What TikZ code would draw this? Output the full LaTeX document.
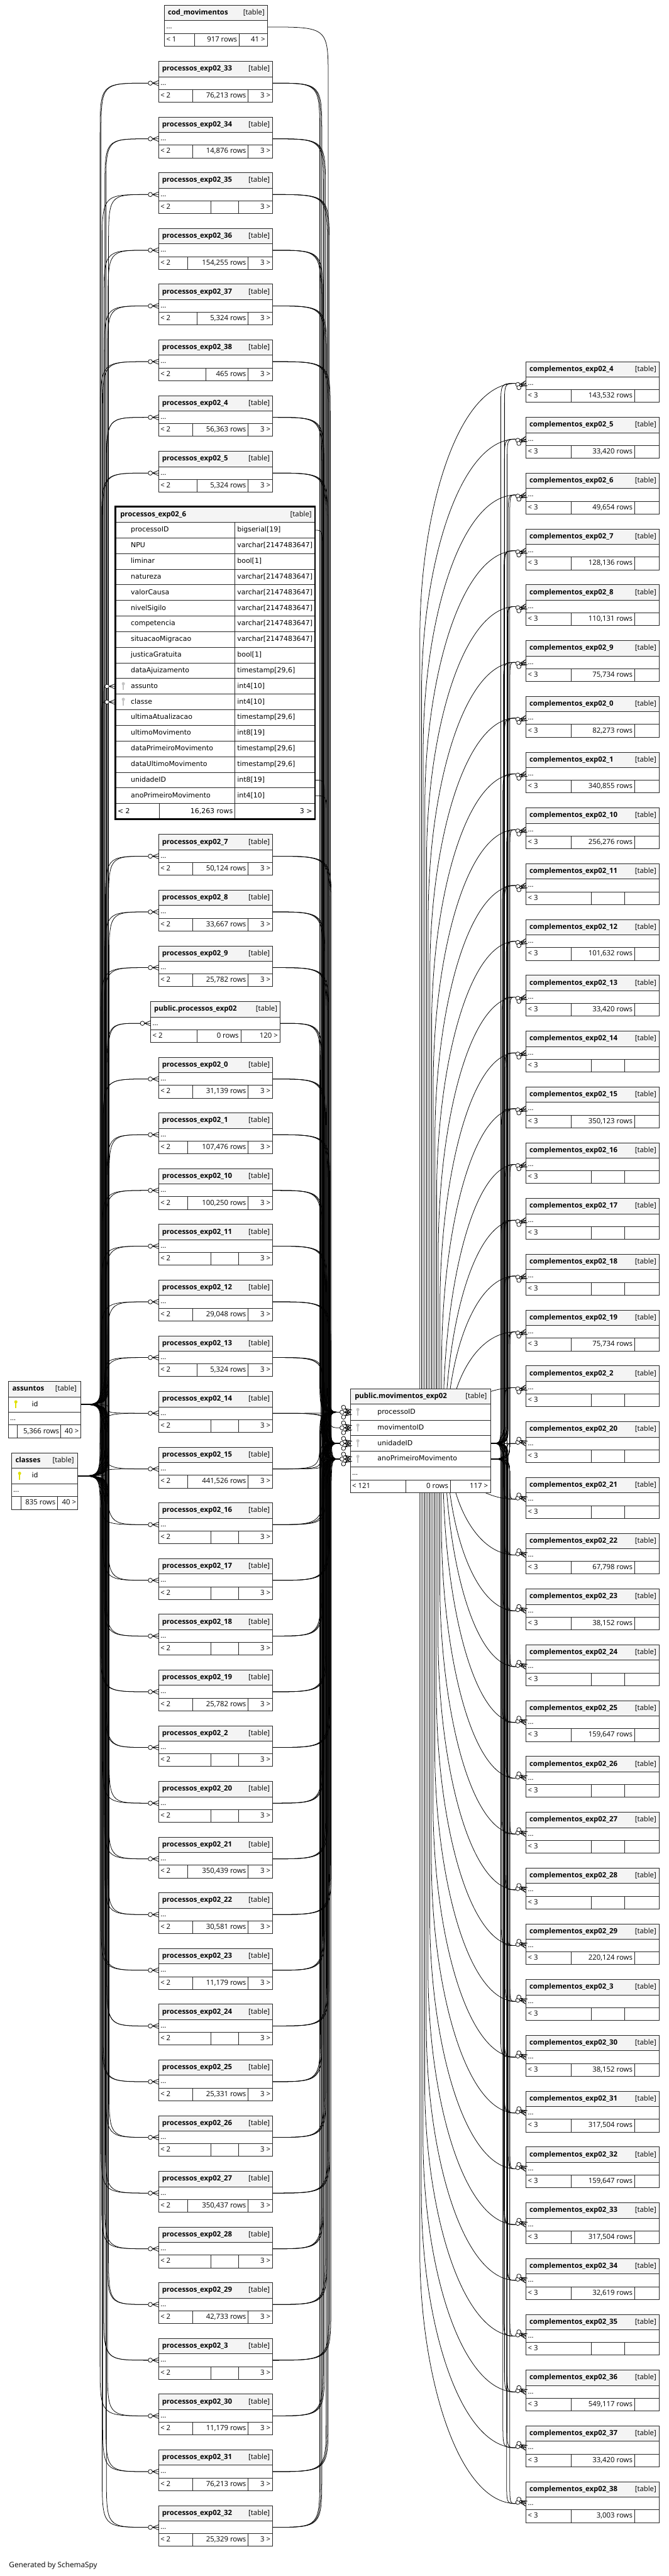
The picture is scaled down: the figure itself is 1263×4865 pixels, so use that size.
\documentclass[tikz,border=0pt]{standalone}
\usepackage{fontspec}
\setmainfont{Open Sans}
\newfontfamily\fieldfont{DejaVu Sans}
\usetikzlibrary{calc}
\pgfdeclarelayer{bg}
\pgfsetlayers{bg,main}
\definecolor{hdr}{HTML}{F4F4F4}
\definecolor{pkey}{HTML}{E0E000}
\definecolor{fkey}{HTML}{C4C4C4}
\tikzset{
  edge/.style={draw=black, line width=0.9pt},
  tbl/.style={draw=black!85, line width=1.1pt},
  ttl/.style={inner sep=0pt, text height=10pt, text depth=3pt, font=\fontsize{13.5}{16}\selectfont\bfseries},
  tag/.style={inner sep=0pt, text height=10pt, text depth=3pt, font=\fontsize{13.5}{16}\selectfont},
  cell/.style={inner sep=0pt, text height=10pt, text depth=3pt, font=\fontsize{13.5}{16}\selectfont},
  fld/.style={inner sep=0pt, text height=10pt, text depth=3pt, font=\fieldfont\fontsize{13}{16}\selectfont},
  crow/.pic={
    \draw[edge] (-12,0) -- (0,-5) (-12,0) -- (0,0) (-12,0) -- (0,5);
    \draw[edge, fill=white] (-16,0) circle[radius=4];
  },
  pkeyic/.pic={\fill[pkey] (0,-5) circle[radius=3]; \fill[pkey] (-1.2,-5) rectangle (1.2,7);},
  fkeyic/.pic={\fill[fkey] (0,-5) circle[radius=3]; \fill[fkey] (-1.2,-5) rectangle (1.2,7);}
}
\newcommand\myL{< 2}
\newcommand\myR{3 >}
% small table: #1 name #2 x0 #3 x1 #4 top #5 c1 #6 c2 #7 title #8 rows
\newcommand\smtab[8]{%
  \pgfmathsetmacro\tyA{#4+29}%
  \pgfmathsetmacro\tyB{#4+53}%
  \pgfmathsetmacro\tyC{#4+77}%
  \pgfmathsetmacro\tyM{#4+41}%
  \pgfmathsetmacro\tyF{#4+65}%
  \pgfmathsetmacro\tyH{#4+14.5}%
  \filldraw[tbl,fill=white] (#2,#4) rectangle (#3,\tyC);
  \filldraw[tbl,fill=hdr] (#2,#4) rectangle (#3,\tyA);
  \draw[tbl] (#2,\tyB) -- (#3,\tyB) (#5,\tyB) -- (#5,\tyC) (#6,\tyB) -- (#6,\tyC);
  \node[ttl,anchor=west] (#1) at (#2+6,\tyH) {#7};
  \node[tag,anchor=east] (#1-tag) at (#3-5,\tyH) {[table]};
  \node[cell,anchor=west] (#1-dots) at (#2+3,\tyM) {...};
  \node[cell,anchor=west] (#1-lf) at (#2+3,\tyF) {\myL};
  \node[cell,anchor=east] (#1-rows) at (#6-4,\tyF) {#8};
  \node[cell,anchor=east] (#1-rt) at (#3-4,\tyF) {\myR};
  \coordinate (#1-w) at (#2,\tyM);
  \coordinate (#1-wl) at (#2-20,\tyM);
  \coordinate (#1-e) at (#3,\tyM);
}
% route: #1 src #2 tgt #3 ys #4 ye #5 xb #6 R1 #7 R2
\newcommand\route[7]{%
  \pgfmathsetmacro\rtDy{#4-(#3)}%
  \pgfmathsetmacro\rtS{ifthenelse(\rtDy<0,-1,1)}%
  \pgfmathsetmacro\rtA{min(#6,abs(\rtDy)/2)}%
  \pgfmathsetmacro\rtB{min(#7,abs(\rtDy)/2)}%
  \pgfmathsetmacro\rtP{#3+\rtS*\rtA}%
  \pgfmathsetmacro\rtQ{#4-\rtS*\rtB}%
  \draw[edge] (#1) .. controls (#5,#3) .. (#5,\rtP) -- (#5,\rtQ) .. controls (#5,#4) .. (#2);
}
\def\upperlist{p33,p34,p35,p36,p37,p38,p4,p5}
\def\lowerlist{p7,p8,p9,pub,p0,p1,p10,p11,p12,p13,p14,p15,p16,p17,p18,p19,p2,p20,p21,p22,p23,p24,p25,p26,p27,p28,p29,p3,p30,p31,p32}
\def\rightlist{c4,c5,c6,c7,c8,c9,c0,c1,c10,c11,c12,c13,c14,c15,c16,c17,c18,c19,c2,c20,c21,c22,c23,c24,c25,c26,c27,c28,c29,c3,c30,c31,c32,c33,c34,c35,c36,c37,c38}

\begin{document}
\begin{tikzpicture}[x=1pt,y=-1pt]
\useasboundingbox (0,0) rectangle (1263,4865);

% ---------- cod_movimentos
\def\myL{< 1}\def\myR{41 >}
\smtab{cod}{311}{505}{10}{368}{452}{cod\_movimentos}{917 rows}

% ---------- upper processos tables
\def\myL{< 2}\def\myR{3 >}
\foreach \nm/\ti/\ca/\rw [count=\k from 0] in {p33/33/364/{76{,}213 rows}, p34/34/364/{14{,}876 rows}, p35/35/399/{}, p36/36/355/{154{,}255 rows}, p37/37/372/{5{,}324 rows}, p38/38/389/{465 rows}, p4/4/364/{56{,}363 rows}, p5/5/372/{5{,}324 rows}}{
  \pgfmathsetmacro\tp{116+105.2*\k}
  \ifnum\ca=399 \def\cb{451}\else\def\cb{469}\fi
  \smtab{\nm}{300}{515}{\tp}{\ca}{\cb}{processos\_exp02\_\ti}{\rw}
}

% ---------- lower processos tables
\foreach \nm/\ti/\ca/\rw [count=\k from 0] in {p7/7/364/{50{,}124 rows}, p8/8/364/{33{,}667 rows}, p9/9/364/{25{,}782 rows}, pub/x/372/{0 rows}, p0/0/364/{31{,}139 rows}, p1/1/355/{107{,}476 rows}, p10/10/355/{100{,}250 rows}, p11/11/399/{}, p12/12/364/{29{,}048 rows}, p13/13/372/{5{,}324 rows}, p14/14/399/{}, p15/15/355/{441{,}526 rows}, p16/16/399/{}, p17/17/399/{}, p18/18/399/{}, p19/19/364/{25{,}782 rows}, p2/2/399/{}, p20/20/399/{}, p21/21/355/{350{,}439 rows}, p22/22/364/{30{,}581 rows}, p23/23/364/{11{,}179 rows}, p24/24/399/{}, p25/25/364/{25{,}331 rows}, p26/26/399/{}, p27/27/355/{350{,}437 rows}, p28/28/399/{}, p29/29/364/{42{,}733 rows}, p3/3/399/{}, p30/30/364/{11{,}179 rows}, p31/31/364/{76{,}213 rows}, p32/32/364/{25{,}329 rows}}{
  \pgfmathsetmacro\tp{1576+105.2*\k}
  \ifnum\k=3
    \def\myR{120 >}%
    \smtab{pub}{285}{529}{\tp}{372}{455}{public.processos\_exp02}{0 rows}
  \else
    \ifnum\ca=399 \def\cb{451}\else\def\cb{469}\fi
    \smtab{\nm}{300}{515}{\tp}{\ca}{\cb}{processos\_exp02\_\ti}{\rw}
  \fi
}

% ---------- complementos tables
\def\myL{< 3}\def\myR{}
\foreach \nm/\ti/\fl/\rw [count=\k from 0] in {c4/4/1/{143{,}532 rows}, c5/5/1/{33{,}420 rows}, c6/6/1/{49{,}654 rows}, c7/7/1/{128{,}136 rows}, c8/8/1/{110{,}131 rows}, c9/9/1/{75{,}734 rows}, c0/0/1/{82{,}273 rows}, c1/1/1/{340{,}855 rows}, c10/10/1/{256{,}276 rows}, c11/11/0/{}, c12/12/1/{101{,}632 rows}, c13/13/1/{33{,}420 rows}, c14/14/0/{}, c15/15/1/{350{,}123 rows}, c16/16/0/{}, c17/17/0/{}, c18/18/0/{}, c19/19/1/{75{,}734 rows}, c2/2/0/{}, c20/20/0/{}, c21/21/0/{}, c22/22/1/{67{,}798 rows}, c23/23/1/{38{,}152 rows}, c24/24/0/{}, c25/25/1/{159{,}647 rows}, c26/26/0/{}, c27/27/0/{}, c28/28/0/{}, c29/29/1/{220{,}124 rows}, c3/3/0/{}, c30/30/1/{38{,}152 rows}, c31/31/1/{317{,}504 rows}, c32/32/1/{159{,}647 rows}, c33/33/1/{317{,}504 rows}, c34/34/1/{32{,}619 rows}, c35/35/0/{}, c36/36/1/{549{,}117 rows}, c37/37/1/{33{,}420 rows}, c38/38/1/{3{,}003 rows}}{
  \pgfmathsetmacro\tp{683+105.37*\k}
  \ifnum\fl=1 \def\ca{1079}\def\cb{1199}\else\def\ca{1117}\def\cb{1180}\fi
  \smtab{\nm}{994}{1245}{\tp}{\ca}{\cb}{complementos\_exp02\_\ti}{\rw}
}

% ---------- big table processos_exp02_6
\filldraw[fill=white, draw=black, line width=3pt] (218,957) rectangle (595,1547);
\fill[hdr] (219.5,958.5) rectangle (593.5,986.5);
\foreach \fn/\ft [count=\i from 0] in {processoID/{bigserial[19]}, NPU/{varchar[2147483647]}, liminar/{bool[1]}, natureza/{varchar[2147483647]}, valorCausa/{varchar[2147483647]}, nivelSigilo/{varchar[2147483647]}, competencia/{varchar[2147483647]}, situacaoMigracao/{varchar[2147483647]}, justicaGratuita/{bool[1]}, dataAjuizamento/{timestamp[29,6]}, assunto/{int4[10]}, classe/{int4[10]}, ultimaAtualizacao/{timestamp[29,6]}, ultimoMovimento/{int8[19]}, dataPrimeiroMovimento/{timestamp[29,6]}, dataUltimoMovimento/{timestamp[29,6]}, unidadeID/{int8[19]}, anoPrimeiroMovimento/{int4[10]}}{
  \pgfmathsetmacro\ry{1001.25+29.5*\i}
  \pgfmathsetmacro\rl{986.5+29.5*\i}
  \draw[tbl] (218,\rl) -- (595,\rl);
  \node[fld,anchor=west] (p6f\i) at (247,\ry) {\fn};
  \node[fld,anchor=west] (p6t\i) at (448,\ry) {\ft};
}
\draw[tbl] (218,1517.5) -- (595,1517.5) (444,986.5) -- (444,1547) (301,1517.5) -- (301,1547);
\node[ttl,anchor=west] (p6) at (227,971.75) {processos\_exp02\_6};
\node[tag,anchor=east] (p6-tag) at (589,971.75) {[table]};
\node[fld,anchor=west] (p6-lf) at (222,1532.25) {< 2};
\node[fld,anchor=east] (p6-rows) at (440,1532.25) {16,263 rows};
\node[fld,anchor=east] (p6-rt) at (590,1532.25) {3 >};
\draw[draw=black, line width=3pt] (218,957) rectangle (595,1547);
\path (233,1296.25) pic{fkeyic} (233,1325.75) pic{fkeyic};
\coordinate (p6-asw) at (218,1296.25);
\coordinate (p6-as) at (198,1296.25);
\coordinate (p6-clw) at (218,1325.75);
\coordinate (p6-cl) at (198,1325.75);
\coordinate (p6-pid) at (595,1001.25);
\coordinate (p6-uid) at (595,1473.25);
\coordinate (p6-ano) at (595,1502.75);

% ---------- assuntos
\filldraw[tbl,fill=white] (16,2609) rectangle (152,2716);
\filldraw[tbl,fill=hdr] (16,2609) rectangle (152,2638);
\draw[tbl] (16,2667) -- (152,2667) (16,2691) -- (152,2691) (33,2691) -- (33,2716) (115,2691) -- (115,2716);
\node[ttl,anchor=west] (as) at (23,2623.5) {assuntos};
\node[tag,anchor=east] (as-tag) at (145,2623.5) {[table]};
\path (30,2652.5) pic{pkeyic};
\node[fld,anchor=west] (as-id) at (60,2652.5) {id};
\node[cell,anchor=west] (as-dots) at (19,2679) {...};
\node[cell,anchor=east] (as-rows) at (112,2703.5) {5,366 rows};
\node[cell,anchor=east] (as-rt) at (149,2703.5) {40 >};
\coordinate (asid) at (152,2652.5);

% ---------- classes
\filldraw[tbl,fill=white] (22,2744) rectangle (147,2851);
\filldraw[tbl,fill=hdr] (22,2744) rectangle (147,2773);
\draw[tbl] (22,2802) -- (147,2802) (22,2826) -- (147,2826) (40,2826) -- (40,2851) (109,2826) -- (109,2851);
\node[ttl,anchor=west] (cl) at (29,2758.5) {classes};
\node[tag,anchor=east] (cl-tag) at (140,2758.5) {[table]};
\path (37,2787.5) pic{pkeyic};
\node[fld,anchor=west] (cl-id) at (60,2787.5) {id};
\node[cell,anchor=west] (cl-dots) at (25,2814) {...};
\node[cell,anchor=east] (cl-rows) at (105,2838.5) {835 rows};
\node[cell,anchor=east] (cl-rt) at (144,2838.5) {40 >};
\coordinate (clid) at (147,2787.5);

% ---------- public.movimentos_exp02
\filldraw[tbl,fill=white] (662,2623) rectangle (927,2819);
\filldraw[tbl,fill=hdr] (662,2623) rectangle (927,2652);
\draw[tbl] (662,2682) -- (927,2682) (662,2711) -- (927,2711) (662,2741) -- (927,2741) (662,2770) -- (927,2770) (662,2795) -- (927,2795) (767,2795) -- (767,2819) (851,2795) -- (851,2819);
\node[ttl,anchor=west] (mv) at (670,2637.5) {public.movimentos\_exp02};
\node[tag,anchor=east] (mv-tag) at (920,2637.5) {[table]};
\foreach \fn/\fy/\nn in {processoID/2667/a, movimentoID/2696.5/b, unidadeID/2726/c, anoPrimeiroMovimento/2755.5/d}{
  \path (676,\fy) pic{fkeyic};
  \node[fld,anchor=west] (mv-\nn) at (713,\fy) {\fn};
}
\node[cell,anchor=west] (mv-dots) at (665,2782.5) {...};
\node[cell,anchor=west] (mv-lf) at (665,2807) {< 121};
\node[cell,anchor=east] (mv-rows) at (847,2807) {0 rows};
\node[cell,anchor=east] (mv-rt) at (922,2807) {117 >};
\coordinate (mvp) at (642,2667);
\coordinate (mvm) at (642,2696.5);
\coordinate (mvu) at (642,2726);
\coordinate (mva) at (642,2755.5);
\coordinate (mvp-w) at (662,2667);
\coordinate (mvm-w) at (662,2696.5);
\coordinate (mvu-w) at (662,2726);
\coordinate (mva-w) at (662,2755.5);
\coordinate (mvu-r) at (927,2726);
\coordinate (mva-r) at (927,2755.5);

\node[anchor=west, inner sep=0pt, font=\fontsize{14}{16}\selectfont] (gen) at (17,4845) {Generated by SchemaSpy};

% ---------- connectors (behind tables)
\begin{pgfonlayer}{bg}
\foreach \nm [count=\k from 0] in \upperlist {
  \pgfmathsetmacro\Y{157+105.2*\k}
  \pgfmathsetmacro\xa{191+mod(\k*7,16)}
  \pgfmathsetmacro\xc{189+mod(\k*11,18)}
  \pgfmathsetmacro\xb{604+mod(\k*7,19)}
  \route{asid}{\nm-wl}{2652.5}{\Y}{\xa}{70}{100}
  \route{clid}{\nm-wl}{2787.5}{\Y}{\xc}{70}{100}
  \route{\nm-e}{mvp}{\Y}{2667}{\xb}{100}{70}
  \route{\nm-e}{mvu}{\Y}{2726}{\xb+2}{100}{70}
  \route{\nm-e}{mva}{\Y}{2755.5}{\xb+4}{100}{70}
}
\foreach \nm [count=\k from 8] in \lowerlist {
  \pgfmathsetmacro\Y{1617+105.2*(\k-8)}
  \pgfmathsetmacro\xa{191+mod(\k*7,16)}
  \pgfmathsetmacro\xc{189+mod(\k*11,18)}
  \pgfmathsetmacro\xb{604+mod(\k*7,19)}
  \route{asid}{\nm-wl}{2652.5}{\Y}{\xa}{70}{100}
  \route{clid}{\nm-wl}{2787.5}{\Y}{\xc}{70}{100}
  \route{\nm-e}{mvp}{\Y}{2667}{\xb}{100}{70}
  \route{\nm-e}{mvu}{\Y}{2726}{\xb+2}{100}{70}
  \route{\nm-e}{mva}{\Y}{2755.5}{\xb+4}{100}{70}
}
\route{asid}{p6-as}{2652.5}{1296.25}{196}{70}{40}
\route{clid}{p6-cl}{2787.5}{1325.75}{192}{70}{40}
\route{p6-pid}{mvp}{1001.25}{2667}{609}{40}{70}
\route{p6-uid}{mvu}{1473.25}{2726}{613}{40}{70}
\route{p6-ano}{mva}{1502.75}{2755.5}{617}{40}{70}
\route{cod-e}{mvm}{51}{2696.5}{620}{100}{70}
\foreach \nm [count=\k from 0] in \rightlist {
  \pgfmathsetmacro\Y{724+105.37*\k}
  \pgfmathsetmacro\xu{946+mod(\k*7,15)}
  \pgfmathsetmacro\xv{953+mod(\k*5,15)}
  \route{mvu-r}{\nm-wl}{2726}{\Y}{\xu}{40}{45}
  \route{mva-r}{\nm-wl}{2755.5}{\Y}{\xv}{40}{45}
  \pgfmathsetmacro\dd{abs(\Y-2720)}
  \pgfmathsetmacro\xs{793+60*max(0,1-\dd/2000)}
  \pgfmathsetmacro\LL{min(\dd,480)}
  \pgfmathsetmacro\sg{ifthenelse(\Y<2720,-1,1)}
  \pgfmathsetmacro\yv{\Y-\sg*\LL}
  \pgfmathsetmacro\yc{\Y-\sg*0.5*\LL}
  \pgfmathsetmacro\xcc{\xs+0.4*(974-\xs)}
  \coordinate (mvin\k) at (\xs,2720);
  \draw[edge] (mvin\k) -- (\xs,\yv) .. controls (\xs,\yc) and (\xcc,\Y) .. (\nm-wl);
}
\end{pgfonlayer}

% ---------- crow's feet
\foreach \nm in \upperlist {\path (\nm-w) pic{crow};}
\foreach \nm in \lowerlist {\path (\nm-w) pic{crow};}
\path (p6-asw) pic{crow};
\path (p6-clw) pic{crow};
\foreach \r in {mvp-w,mvm-w,mvu-w,mva-w}{
  \path (\r) pic[rotate=-35]{crow};
  \path (\r) pic[rotate=35]{crow};
  \path (\r) pic{crow};
}
\foreach \nm [count=\k from 0] in \rightlist {
  \ifnum\k<19
    \path (\nm-w) pic[rotate=8]{crow};
    \path (\nm-w) pic[rotate=30]{crow};
  \else
    \path (\nm-w) pic[rotate=-8]{crow};
    \path (\nm-w) pic[rotate=-30]{crow};
  \fi
}
\end{tikzpicture}
\end{document}
